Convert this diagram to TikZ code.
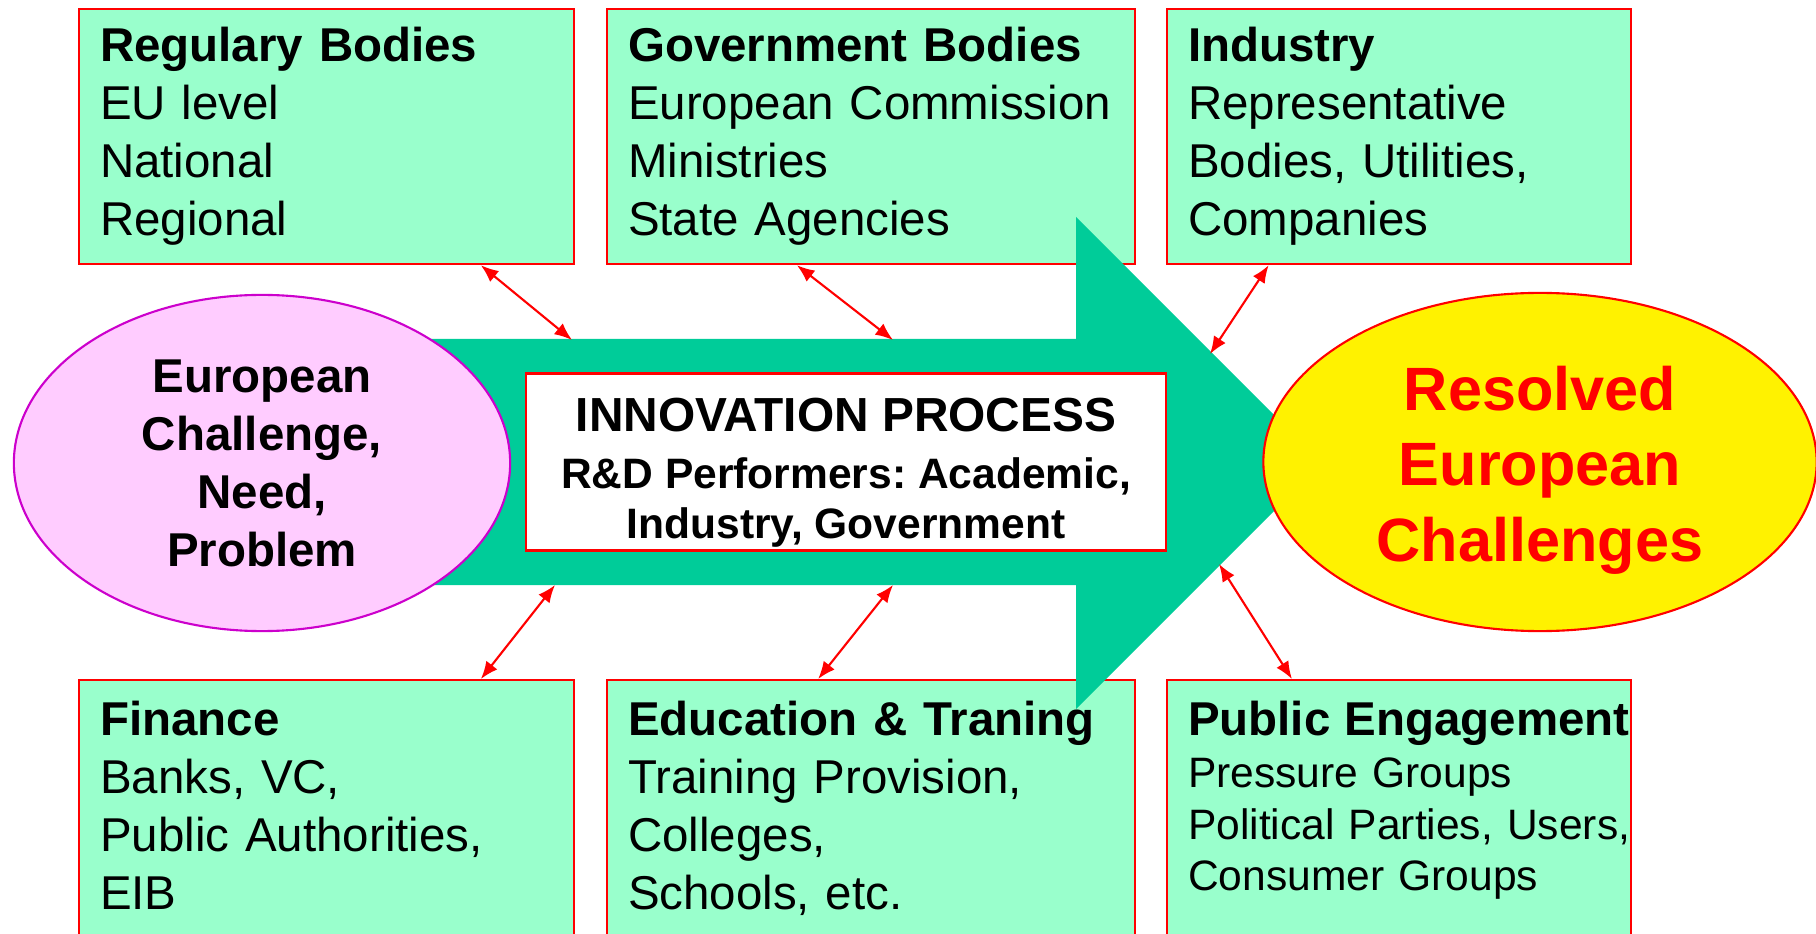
\documentclass[tikz,border=0pt]{standalone}
\usepackage{fontspec}
\setmainfont{Liberation Sans}
\frenchspacing
\usetikzlibrary{shapes.geometric,arrows.meta,calc}

\definecolor{mint}{HTML}{99FFCC}
\definecolor{flowgreen}{HTML}{00CC99}
\definecolor{pinkfill}{HTML}{FFCCFF}
\definecolor{pinkline}{HTML}{CC00CC}

\tikzset{
    actor/.style={rectangle, draw=red, fill=mint, line width=0.6pt, anchor=north west,
        minimum height=2.55cm, inner xsep=0.21cm, align=left,
        font=\fontsize{13.5}{16.5}\selectfont},
    link/.style={red, line width=0.6pt, {Latex[length=5pt,width=4pt]}-{Latex[length=5pt,width=4pt]}}
}

\begin{document}
\begin{tikzpicture}[x=0.01cm, y=-0.01cm]
    \useasboundingbox (0,0) rectangle (1816,934);

    % top row
    \node[actor, text width=4.53cm] (reg) at (78,8) {\textbf{Regulary Bodies}\\EU level\\National\\Regional};
    \node[actor, text width=4.86cm] (gov) at (606,8) {\textbf{Government Bodies}\\\mbox{European Commission}\\Ministries\\State Agencies};
    \node[actor, text width=4.22cm] (ind) at (1166,8) {\textbf{Industry}\\Representative\\Bodies, Utilities,\\Companies};

    % bottom row
    \node[actor, text width=4.53cm, minimum height=2.6cm] (fin) at (78,679) {\textbf{Finance}\\Banks, VC,\\Public Authorities,\\EIB\rule[-3pt]{0pt}{0pt}};
    \node[actor, text width=4.86cm, minimum height=2.6cm] (edu) at (606,679) {\textbf{Education \& Traning}\\Training Provision,\\Colleges,\\Schools, etc.\rule[-3pt]{0pt}{0pt}};
    \node[actor, text width=4.22cm, minimum height=2.6cm, font=\fontsize{12.1}{14.7}\selectfont] (pub) at (1166,679)
        {\mbox{\fontsize{13.5}{16.5}\selectfont\bfseries Public Engagement}\\Pressure Groups\\\mbox{Political Parties, Users,}\\Consumer Groups\rule[-8pt]{0pt}{0pt}};

    % big arrow
    \fill[flowgreen] (262,339) -- (1076,339) -- (1076,217) -- (1322,463) -- (1076,709) -- (1076,585) -- (262,585) -- cycle;

    \node[ellipse, draw=pinkline, fill=pinkfill, line width=0.6pt, minimum width=4.96cm, minimum height=3.36cm,
        inner sep=0pt, align=center, font=\bfseries\fontsize{13.5}{16.5}\selectfont] (need) at (262,463)
        {European\\Challenge,\\Need,\\Problem};

    \node[rectangle, draw=red, fill=white, line width=0.6pt, minimum width=6.40cm, minimum height=1.77cm,
        inner ysep=0pt, align=center, font=\bfseries\fontsize{12.1}{14.2}\selectfont] (proc) at (846,462)
        {\rule{0pt}{15.7pt}{\fontsize{13.6}{16.2}\selectfont INNOVATION PROCESS}\\[2pt]R\&D Performers: Academic,\\Industry, Government};

    \node[ellipse, draw=red, fill=yellow, line width=0.6pt, minimum width=5.53cm, minimum height=3.38cm,
        inner sep=0pt, align=center, text=red, font=\bfseries\fontsize{17.4}{21.4}\selectfont] (goal) at (1540,462)
        {\rule{0pt}{17.3pt}Resolved\\European\\Challenges};

    % ends on the arrow
    \coordinate (t1) at (572,340);
    \coordinate (t2) at (893,340);
    \coordinate (t3) at (1210,354);
    \coordinate (b1) at (555,585);
    \coordinate (b2) at (893,585);
    \coordinate (b3) at (1219,564);

    \draw[link] ($(reg.south west)!.81!(reg.south east)$) -- (t1);
    \draw[link] ($(gov.south west)!.36!(gov.south east)$) -- (t2);
    \draw[link] ($(ind.south west)!.22!(ind.south east)$) -- (t3);
    \draw[link] (b1) -- ($(fin.north west)!.81!(fin.north east)$);
    \draw[link] (b2) -- ($(edu.north west)!.40!(edu.north east)$);
    \draw[link] (b3) -- ($(pub.north west)!.27!(pub.north east)$);
\end{tikzpicture}
\end{document}
